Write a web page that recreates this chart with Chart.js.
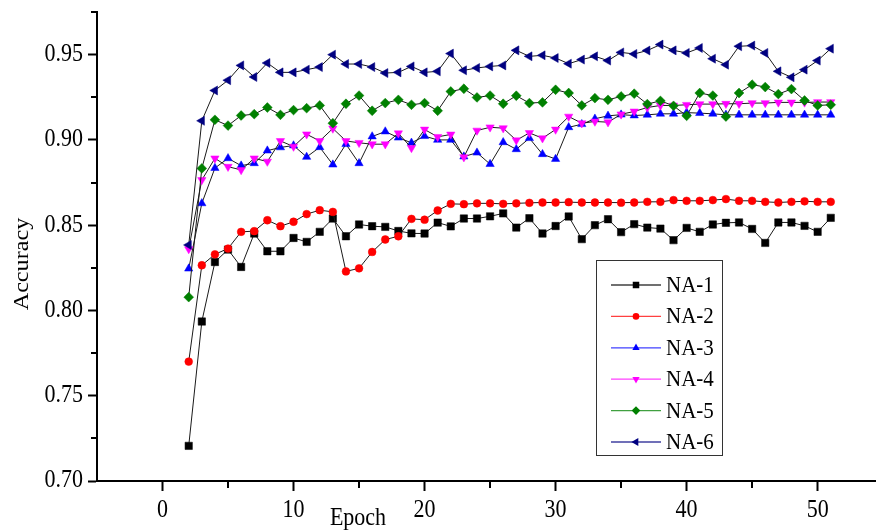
<!DOCTYPE html>
<html lang="en">
  <head>
    <meta charset="UTF-8" />
    <meta name="viewport" content="width=device-width, initial-scale=1.0" />
    <title>Accuracy per Epoch</title>
    <script src="https://cdn.jsdelivr.net/npm/chart.js"></script>
    <style>
      body { margin: 0; background: #fff; overflow: hidden; }
    </style>
  </head>
  <body>
    <canvas id="myChart" width="881" height="530"></canvas>

    <script>
      // epochs on the x axis
      const epochs = [2, 3, 4, 5, 6, 7, 8, 9, 10, 11, 12, 13, 14, 15, 16, 17, 18, 19, 20, 21,
        22, 23, 24, 25, 26, 27, 28, 29, 30, 31, 32, 33, 34, 35, 36, 37, 38, 39, 40, 41,
        42, 43, 44, 45, 46, 47, 48, 49, 50, 51];

      // accuracy values
      const na1 = [0.7206, 0.7935, 0.8284, 0.8357, 0.8255, 0.8451, 0.8347, 0.8347, 0.8425, 0.8402,
        0.8461, 0.8539, 0.8435, 0.8504, 0.8494, 0.8490, 0.8466, 0.8452, 0.8451, 0.8515,
        0.8493, 0.8539, 0.8539, 0.8552, 0.8569, 0.8486, 0.8541, 0.8451, 0.8495, 0.8551,
        0.8418, 0.8500, 0.8535, 0.8459, 0.8506, 0.8486, 0.8480, 0.8412, 0.8484, 0.8461,
        0.8504, 0.8514, 0.8516, 0.8478, 0.8396, 0.8516, 0.8516, 0.8496, 0.8461, 0.8543];
      const na2 = [0.7700, 0.8265, 0.8329, 0.8363, 0.8461, 0.8465, 0.8529, 0.8494, 0.8520, 0.8565,
        0.8588, 0.8578, 0.8229, 0.8247, 0.8343, 0.8416, 0.8435, 0.8537, 0.8532, 0.8586,
        0.8625, 0.8623, 0.8628, 0.8628, 0.8625, 0.8628, 0.8631, 0.8633, 0.8633, 0.8635,
        0.8633, 0.8633, 0.8633, 0.8632, 0.8633, 0.8637, 0.8637, 0.8647, 0.8643, 0.8643,
        0.8647, 0.8653, 0.8643, 0.8643, 0.8637, 0.8633, 0.8637, 0.8640, 0.8637, 0.8637];
      const na3 = [0.8245, 0.8628, 0.8835, 0.8892, 0.8849, 0.8863, 0.8937, 0.8956, 0.8967, 0.8900,
        0.8957, 0.8855, 0.8975, 0.8863, 0.9020, 0.9049, 0.9013, 0.8983, 0.9022, 0.9000,
        0.9000, 0.8902, 0.8925, 0.8858, 0.8986, 0.8945, 0.9010, 0.8916, 0.8888, 0.9074,
        0.9092, 0.9124, 0.9141, 0.9148, 0.9143, 0.9147, 0.9153, 0.9153, 0.9160, 0.9157,
        0.9153, 0.9147, 0.9147, 0.9147, 0.9147, 0.9147, 0.9147, 0.9147, 0.9147, 0.9147];
      const na4 = [0.8360, 0.8765, 0.8892, 0.8843, 0.8824, 0.8892, 0.8873, 0.8994, 0.8961, 0.9033,
        0.8994, 0.9067, 0.8994, 0.8983, 0.8975, 0.8975, 0.9039, 0.8953, 0.9061, 0.9018,
        0.9032, 0.8899, 0.9055, 0.9074, 0.9069, 0.8998, 0.9041, 0.9010, 0.9061, 0.9137,
        0.9098, 0.9108, 0.9104, 0.9150, 0.9167, 0.9190, 0.9202, 0.9202, 0.9206, 0.9210,
        0.9210, 0.9212, 0.9212, 0.9216, 0.9216, 0.9220, 0.9220, 0.9220, 0.9222, 0.9222];
      const na5 = [0.8078, 0.8833, 0.9118, 0.9084, 0.9143, 0.9151, 0.9190, 0.9147, 0.9175, 0.9186,
        0.9202, 0.9098, 0.9212, 0.9260, 0.9171, 0.9216, 0.9235, 0.9206, 0.9216, 0.9171,
        0.9284, 0.9300, 0.9249, 0.9260, 0.9212, 0.9259, 0.9216, 0.9220, 0.9294, 0.9275,
        0.9202, 0.9245, 0.9235, 0.9255, 0.9271, 0.9210, 0.9229, 0.9200, 0.9141, 0.9275,
        0.9260, 0.9137, 0.9275, 0.9324, 0.9310, 0.9269, 0.9298, 0.9231, 0.9202, 0.9206];
      const na6 = [0.8384, 0.9112, 0.9290, 0.9350, 0.9437, 0.9369, 0.9451, 0.9396, 0.9396, 0.9412,
        0.9427, 0.9500, 0.9445, 0.9445, 0.9427, 0.9392, 0.9396, 0.9431, 0.9396, 0.9402,
        0.9506, 0.9408, 0.9422, 0.9431, 0.9437, 0.9525, 0.9490, 0.9496, 0.9480, 0.9447,
        0.9471, 0.9490, 0.9465, 0.9513, 0.9504, 0.9524, 0.9559, 0.9525, 0.9510, 0.9539,
        0.9476, 0.9441, 0.9549, 0.9553, 0.9510, 0.9402, 0.9367, 0.9412, 0.9465, 0.9535];

      const seriesNames = ['NA-1', 'NA-2', 'NA-3', 'NA-4', 'NA-5', 'NA-6'];
      const seriesList = [na1, na2, na3, na4, na5, na6];

      // tick labels
      const xTickLabels = [0, 10, 20, 30, 40, 50];
      const yTickLabels = [0.70, 0.75, 0.80, 0.85, 0.90, 0.95];

      // look of each series
      const colors = ['#000000', '#ff0000', '#0000ff', '#ff00ff', '#008000', '#000080'];
      const markers = [
        { style: 'rect', radius: 5.2, rotation: 0 },
        { style: 'circle', radius: 3.9, rotation: 0 },
        { style: 'triangle', radius: 4.8, rotation: 0 },
        { style: 'triangle', radius: 4.8, rotation: 180 },
        { style: 'rectRot', radius: 4.9, rotation: 0 },
        { style: 'triangle', radius: 5.2, rotation: -90 }
      ];

      const FONT = '"Liberation Serif", "Times New Roman", serif';
      const STRETCH = 1.1; // text in the picture is a bit taller than wide

      function stretchedText(ctx, text, x, y, align, baseline, size, rotate) {
        ctx.save();
        ctx.translate(x, y);
        if (rotate) {
          ctx.rotate(-Math.PI / 2);
          ctx.scale(STRETCH, 1);
        } else {
          ctx.scale(1, STRETCH);
        }
        ctx.font = size + 'px ' + FONT;
        ctx.textAlign = align;
        ctx.textBaseline = baseline;
        ctx.fillStyle = '#000';
        ctx.fillText(text, 0, 0);
        ctx.restore();
      }

      // ticks labels, minor ticks, axis titles and the legend box
      const extras = {
        id: 'extras',
        afterDraw(chart) {
          const ctx = chart.ctx;
          const xs = chart.scales.x;
          const ys = chart.scales.y;
          const area = chart.chartArea;

          ctx.save();
          ctx.strokeStyle = '#000';
          ctx.lineWidth = 2;
          // minor ticks halfway between labelled ones
          for (let i = 0; i < xTickLabels.length - 1; i++) {
            const px = Math.round(xs.getPixelForValue((xTickLabels[i] + xTickLabels[i + 1]) / 2));
            ctx.beginPath();
            ctx.moveTo(px, area.bottom);
            ctx.lineTo(px, area.bottom + 7);
            ctx.stroke();
          }
          for (let i = 0; i < yTickLabels.length; i++) {
            const next = i < yTickLabels.length - 1 ? yTickLabels[i + 1] : yTickLabels[i] + 0.05;
            const v = (yTickLabels[i] + next) / 2;
            if (v > ys.max + 1e-9) continue;
            const py = Math.round(ys.getPixelForValue(v));
            ctx.beginPath();
            ctx.moveTo(area.left, py);
            ctx.lineTo(area.left - 6, py);
            ctx.stroke();
          }
          ctx.restore();

          xTickLabels.forEach(v => {
            stretchedText(ctx, String(v), xs.getPixelForValue(v), 517, 'center', 'alphabetic', 22);
          });
          yTickLabels.forEach(v => {
            stretchedText(ctx, v.toFixed(2), 83, ys.getPixelForValue(v), 'right', 'middle', 22);
          });

          stretchedText(ctx, 'Epoch', 358, 525, 'center', 'alphabetic', 22);
          stretchedText(ctx, 'Accuracy', 28, 264, 'center', 'alphabetic', 22, true);

          // legend
          ctx.save();
          ctx.strokeStyle = '#333';
          ctx.lineWidth = 1;
          ctx.fillStyle = '#fff';
          ctx.fillRect(596, 260, 127, 196);
          ctx.strokeRect(596.5, 260.5, 126, 195);
          ctx.restore();

          seriesNames.forEach((name, i) => {
            const y = 285 + i * 31.4;
            ctx.save();
            ctx.strokeStyle = colors[i];
            ctx.lineWidth = 1.3;
            ctx.globalAlpha = 0.75;
            ctx.beginPath();
            ctx.moveTo(611, y);
            ctx.lineTo(661, y);
            ctx.stroke();
            ctx.globalAlpha = 1;
            ctx.fillStyle = colors[i];
            ctx.strokeStyle = colors[i];
            Chart.helpers.drawPoint(ctx, {
              pointStyle: markers[i].style,
              rotation: markers[i].rotation,
              radius: markers[i].radius - 0.6,
              borderWidth: 0
            }, 636, y);
            ctx.restore();
            stretchedText(ctx, name, 666, y + 1, 'left', 'middle', 21);
          });
        }
      };

      const datasets = seriesList.map((vals, i) => ({
        label: seriesNames[i],
        data: epochs.map((e, j) => ({ x: e, y: vals[j] })),
        borderColor: '#1a1a1a',
        borderWidth: 1,
        pointStyle: markers[i].style,
        pointRadius: markers[i].radius,
        pointRotation: markers[i].rotation,
        pointBackgroundColor: colors[i],
        pointBorderColor: colors[i],
        pointBorderWidth: 0.5,
        tension: 0,
        order: seriesNames.length - i
      }));

      const ctx = document.getElementById('myChart').getContext('2d');
      const myChart = new Chart(ctx, {
        type: 'line',
        data: { datasets: datasets },
        plugins: [extras],
        options: {
          responsive: false,
          animation: false,
          layout: { padding: { top: 12, left: 0, right: 0, bottom: 0 } },
          plugins: {
            legend: { display: false },
            tooltip: { enabled: false }
          },
          scales: {
            x: {
              type: 'linear',
              min: -5,
              max: 54.4,
              afterBuildTicks: s => { s.ticks = xTickLabels.map(v => ({ value: v })); },
              afterFit: s => { s.height = 49; },
              ticks: { display: false },
              grid: { drawOnChartArea: false, drawTicks: true, tickLength: 10, tickWidth: 2, tickColor: '#000' },
              border: { color: '#000', width: 2 }
            },
            y: {
              min: 0.70,
              max: 0.975,
              afterBuildTicks: s => { s.ticks = yTickLabels.map(v => ({ value: v })); },
              afterFit: s => { s.width = 97; },
              ticks: { display: false },
              grid: { drawOnChartArea: false, drawTicks: true, tickLength: 9, tickWidth: 2, tickColor: '#000' },
              border: { color: '#000', width: 2 }
            }
          }
        }
      });
    </script>
  </body>
</html>
